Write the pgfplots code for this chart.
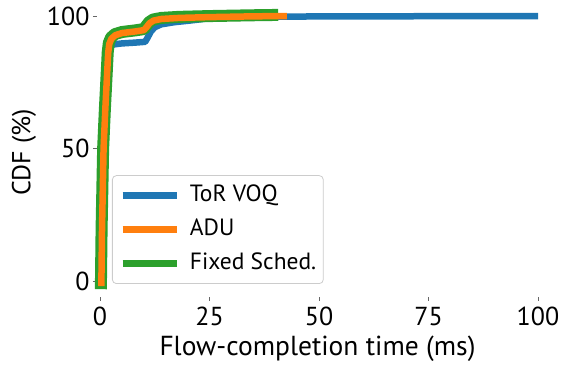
\documentclass[border=0pt]{standalone}
\usepackage{fontspec}
\setmainfont{PT Sans}
\usepackage{pgfplots}
\pgfplotsset{compat=1.18}
\definecolor{tabblue}{HTML}{1F77B4}
\definecolor{taborange}{HTML}{FF7F0E}
\definecolor{tabgreen}{HTML}{2CA02C}
\begin{document}
\begin{tikzpicture}
\path[use as bounding box] (-97bp,-74bp) rectangle (467bp,297bp);
\begin{axis}[
  at={(0,0)}, anchor=south west,
  scale only axis, width=441bp, height=288.9bp,
  xmin=-0.7, xmax=100, ymin=-5.8, ymax=103,
  axis line style={draw=none},
  tick align=outside, major tick length=4bp,
  tick style={black!60, line width=0.8bp},
  xtick={0,25,50,75,100}, ytick={0,50,100},
  xtick pos=bottom, ytick pos=left,
  minor tick num=0,
  /pgf/number format/assume math mode=true,
  ticklabel style={font=\fontsize{26bp}{30bp}\selectfont},
  xticklabel style={anchor=base, yshift=-24bp},
  yticklabel style={anchor=east, xshift=0bp},
  every axis x label/.style={at={(axis description cs:0.5,0)}, anchor=base, yshift=-58bp, font=\fontsize{27.5bp}{31bp}\selectfont},
  every axis y label/.style={at={(axis description cs:0,0.5)}, xshift=-73bp, rotate=90, anchor=center, font=\fontsize{26bp}{30bp}\selectfont},
  xlabel={Flow-completion time (ms)}, ylabel={CDF (\%)},
  clip=false,
  legend cell align=left,
  legend image code/.code={\draw[#1, line cap=butt] (0bp,0bp) -- (54bp,0bp);},
  legend style={at={(axis description cs:0.034,0.045)}, anchor=south west,
    draw=black!20, line width=0.8bp, rounded corners=4bp, fill=white, fill opacity=0.8, text opacity=1,
    font=\fontsize{23.5bp}{27bp}\selectfont,
    inner xsep=7bp, inner ysep=9.5bp, row sep=13bp,
    nodes={inner sep=0bp, text height=16bp, text depth=5bp},
    /tikz/every odd column/.append style={column sep=10bp}},
]
\addplot[tabblue, line width=6.5bp, line cap=rect, line join=round] coordinates {
(0.3,-0.5) (0.45,20) (0.8,50) (1.2,65) (1.6,78) (1.85,85) (2.2,88.3) (3,89.3) (5,89.7) (8,90) (10.3,90.3) (10.9,92) (11.6,94.2) (12.5,95.8) (14,96.9) (17,97.7) (20.5,98.3) (25,99.2) (30,99.6) (40,99.8) (60,99.9) (99.3,100)
};
\addlegendentry{ToR VOQ}
\addplot[tabgreen, line width=12bp, line cap=rect, line join=round, forget plot] coordinates {
(0.2,-0.6) (0.35,20) (0.7,50) (1.1,65) (1.5,78) (1.75,86.4) (2.0,89.9) (2.5,91.9) (3.4,93.2) (5,94.0) (8,94.6) (10,95.1) (10.5,96.2) (11.2,97.7) (12.1,98.7) (14,99.3) (18,99.7) (25,100.0) (35,100.3) (39.3,100.4)
};
\addplot[taborange, line width=6.5bp, line cap=rect, line join=round] coordinates {
(0.3,-0.5) (0.45,20) (0.8,50) (1.2,65) (1.6,78) (1.85,86) (2.1,89.5) (2.6,91.5) (3.5,92.8) (5,93.6) (8,94.2) (10,94.7) (10.6,95.8) (11.3,97.3) (12.2,98.3) (14,98.9) (18,99.3) (25,99.6) (35,99.9) (41.9,100)
};
\addlegendentry{ADU}
\addlegendimage{tabgreen, line width=6.5bp}
\addlegendentry{Fixed Sched.}
\end{axis}
\end{tikzpicture}
\end{document}
